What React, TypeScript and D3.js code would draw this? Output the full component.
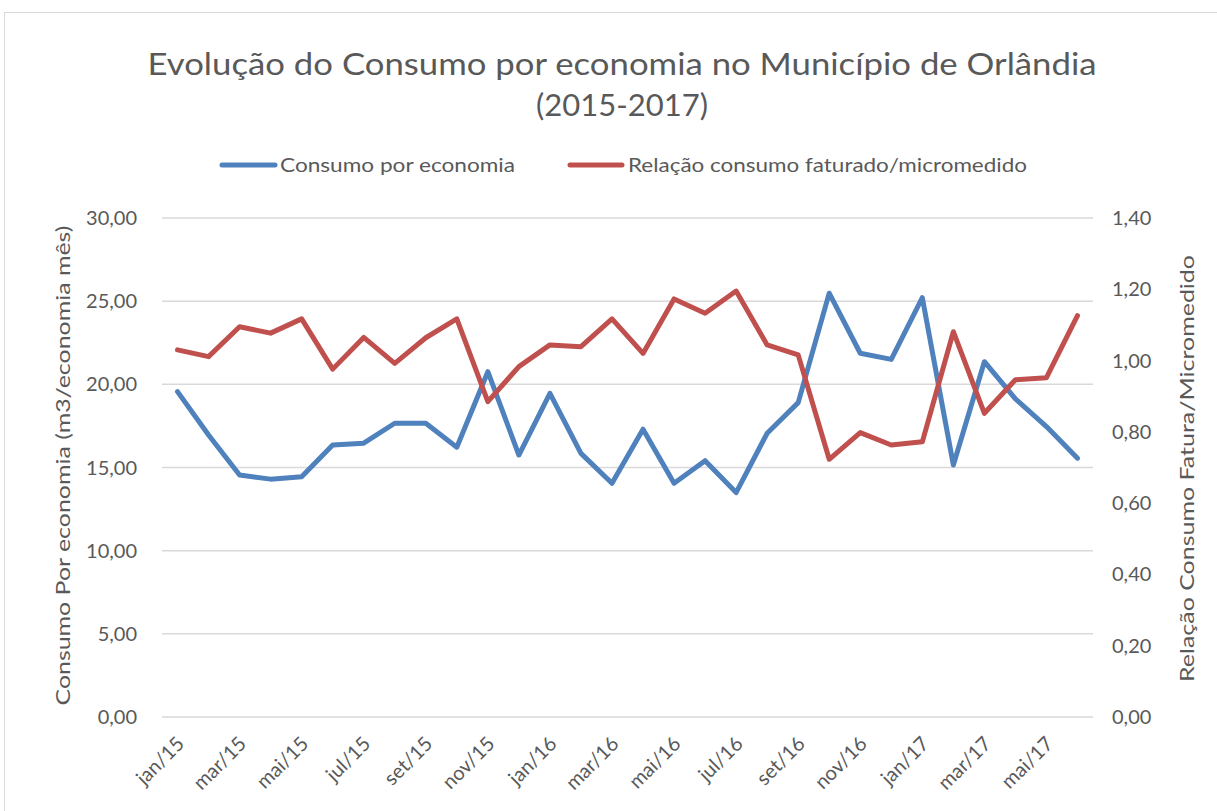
import React from "react";
import * as d3 from "d3";

const months = [
  "jan/15","fev/15","mar/15","abr/15","mai/15","jun/15","jul/15","ago/15","set/15","out/15","nov/15","dez/15",
  "jan/16","fev/16","mar/16","abr/16","mai/16","jun/16","jul/16","ago/16","set/16","out/16","nov/16","dez/16",
  "jan/17","fev/17","mar/17","abr/17","mai/17","jun/17",
];
const consumo = [
  19.56, 16.95, 14.55, 14.3, 14.45, 16.36, 16.46, 17.66, 17.66, 16.22,
  20.76, 15.75, 19.46, 15.85, 14.05, 17.3, 14.05, 15.41, 13.49, 17.06,
  18.9, 25.48, 21.87, 21.5, 25.21, 15.15, 21.36, 19.12, 17.46, 15.56,
];
const relacao = [
  1.03, 1.011, 1.095, 1.077, 1.117, 0.976, 1.065, 0.992, 1.064, 1.117,
  0.885, 0.983, 1.044, 1.039, 1.117, 1.02, 1.173, 1.133, 1.195, 1.044,
  1.016, 0.723, 0.798, 0.763, 0.772, 1.081, 0.852, 0.946, 0.952, 1.126,
];
const leftTicks = [0, 5, 10, 15, 20, 25, 30];
const rightTicks = [0, 0.2, 0.4, 0.6, 0.8, 1.0, 1.2, 1.4];
const seriesNames = ["Consumo por economia", "Relação consumo faturado/micromedido"];
const colors = ["#4f81bd", "#c0504d"];

const W = 1217, H = 811;
const plot = { left: 162, right: 1093, top: 218, bottom: 717 };
const FONT = "Lato, 'Open Sans', sans-serif";
const TXT = "#595959";

const fmt = (v: number, d: number) => v.toFixed(d).replace(".", ",");

export default function App() {
  const x = d3.scaleBand<string>().domain(months).range([plot.left, plot.right]);
  const cx = (m: string) => (x(m) as number) + x.bandwidth() / 2;
  const yL = d3.scaleLinear().domain([0, 30]).range([plot.bottom, plot.top]);
  const yR = d3.scaleLinear().domain([0, 1.4]).range([plot.bottom, plot.top]);

  const lineL = d3.line<number>().x((_, i) => cx(months[i])).y((d) => yL(d));
  const lineR = d3.line<number>().x((_, i) => cx(months[i])).y((d) => yR(d));

  return (
    <svg width={W} height={H} style={{ position: "absolute", left: 0, top: 0, background: "#fff" }}>
      <rect x={4.5} y={12.5} width={1240} height={820} fill="#fff" stroke="#d9d9d9" strokeWidth={1} />
      <text x={622} y={75} textAnchor="middle" fontFamily={FONT} fontSize={31} fill={TXT} textLength={949} lengthAdjust="spacingAndGlyphs">
        Evolução do Consumo por economia no Município de Orlândia
      </text>
      <text x={622} y={116} textAnchor="middle" fontFamily={FONT} fontSize={31} fill={TXT}>
        (2015-2017)
      </text>

      {/* legend */}
      <line x1={222} x2={275} y1={165} y2={165} stroke={colors[0]} strokeWidth={5} strokeLinecap="round" />
      <text x={280} y={172} fontFamily={FONT} fontSize={20} fill={TXT} textLength={235} lengthAdjust="spacingAndGlyphs">{seriesNames[0]}</text>
      <line x1={570} x2={622} y1={165} y2={165} stroke={colors[1]} strokeWidth={5} strokeLinecap="round" />
      <text x={628} y={172} fontFamily={FONT} fontSize={20} fill={TXT} textLength={399} lengthAdjust="spacingAndGlyphs">{seriesNames[1]}</text>

      {/* gridlines */}
      {leftTicks.map((t) => (
        <line key={t} x1={plot.left} x2={plot.right} y1={yL(t)} y2={yL(t)} stroke="#d9d9d9" strokeWidth={1.5} />
      ))}
      {leftTicks.map((t) => (
        <text key={"l" + t} x={137} y={yL(t) + 7} textAnchor="end" fontFamily={FONT} fontSize={20} fill={TXT}>
          {fmt(t, 2)}
        </text>
      ))}
      {rightTicks.map((t) => (
        <text key={"r" + t} x={1112} y={yR(t) + 7} textAnchor="start" fontFamily={FONT} fontSize={20} fill={TXT}>
          {fmt(t, 2)}
        </text>
      ))}
      {months.map((m, i) =>
        i % 2 === 0 ? (
          <text key={m} transform={`translate(${cx(m) + 8},${plot.bottom + 28}) rotate(-45)`} textAnchor="end" fontFamily={FONT} fontSize={20} fill={TXT}>
            {m}
          </text>
        ) : null
      )}

      <text transform={`translate(70,${(plot.top + plot.bottom) / 2 - 2}) rotate(-90)`} textAnchor="middle" fontFamily={FONT} fontSize={20} fill={TXT} textLength={480} lengthAdjust="spacingAndGlyphs">
        Consumo Por economia (m3/economia mês)
      </text>
      <text transform={`translate(1194,${(plot.top + plot.bottom) / 2 + 1}) rotate(-90)`} textAnchor="middle" fontFamily={FONT} fontSize={20} fill={TXT} textLength={427} lengthAdjust="spacingAndGlyphs">
        Relação Consumo Fatura/Micromedido
      </text>

      <path d={lineL(consumo) ?? ""} fill="none" stroke={colors[0]} strokeWidth={5} strokeLinejoin="round" strokeLinecap="round" />
      <path d={lineR(relacao) ?? ""} fill="none" stroke={colors[1]} strokeWidth={5} strokeLinejoin="round" strokeLinecap="round" />
    </svg>
  );
}
